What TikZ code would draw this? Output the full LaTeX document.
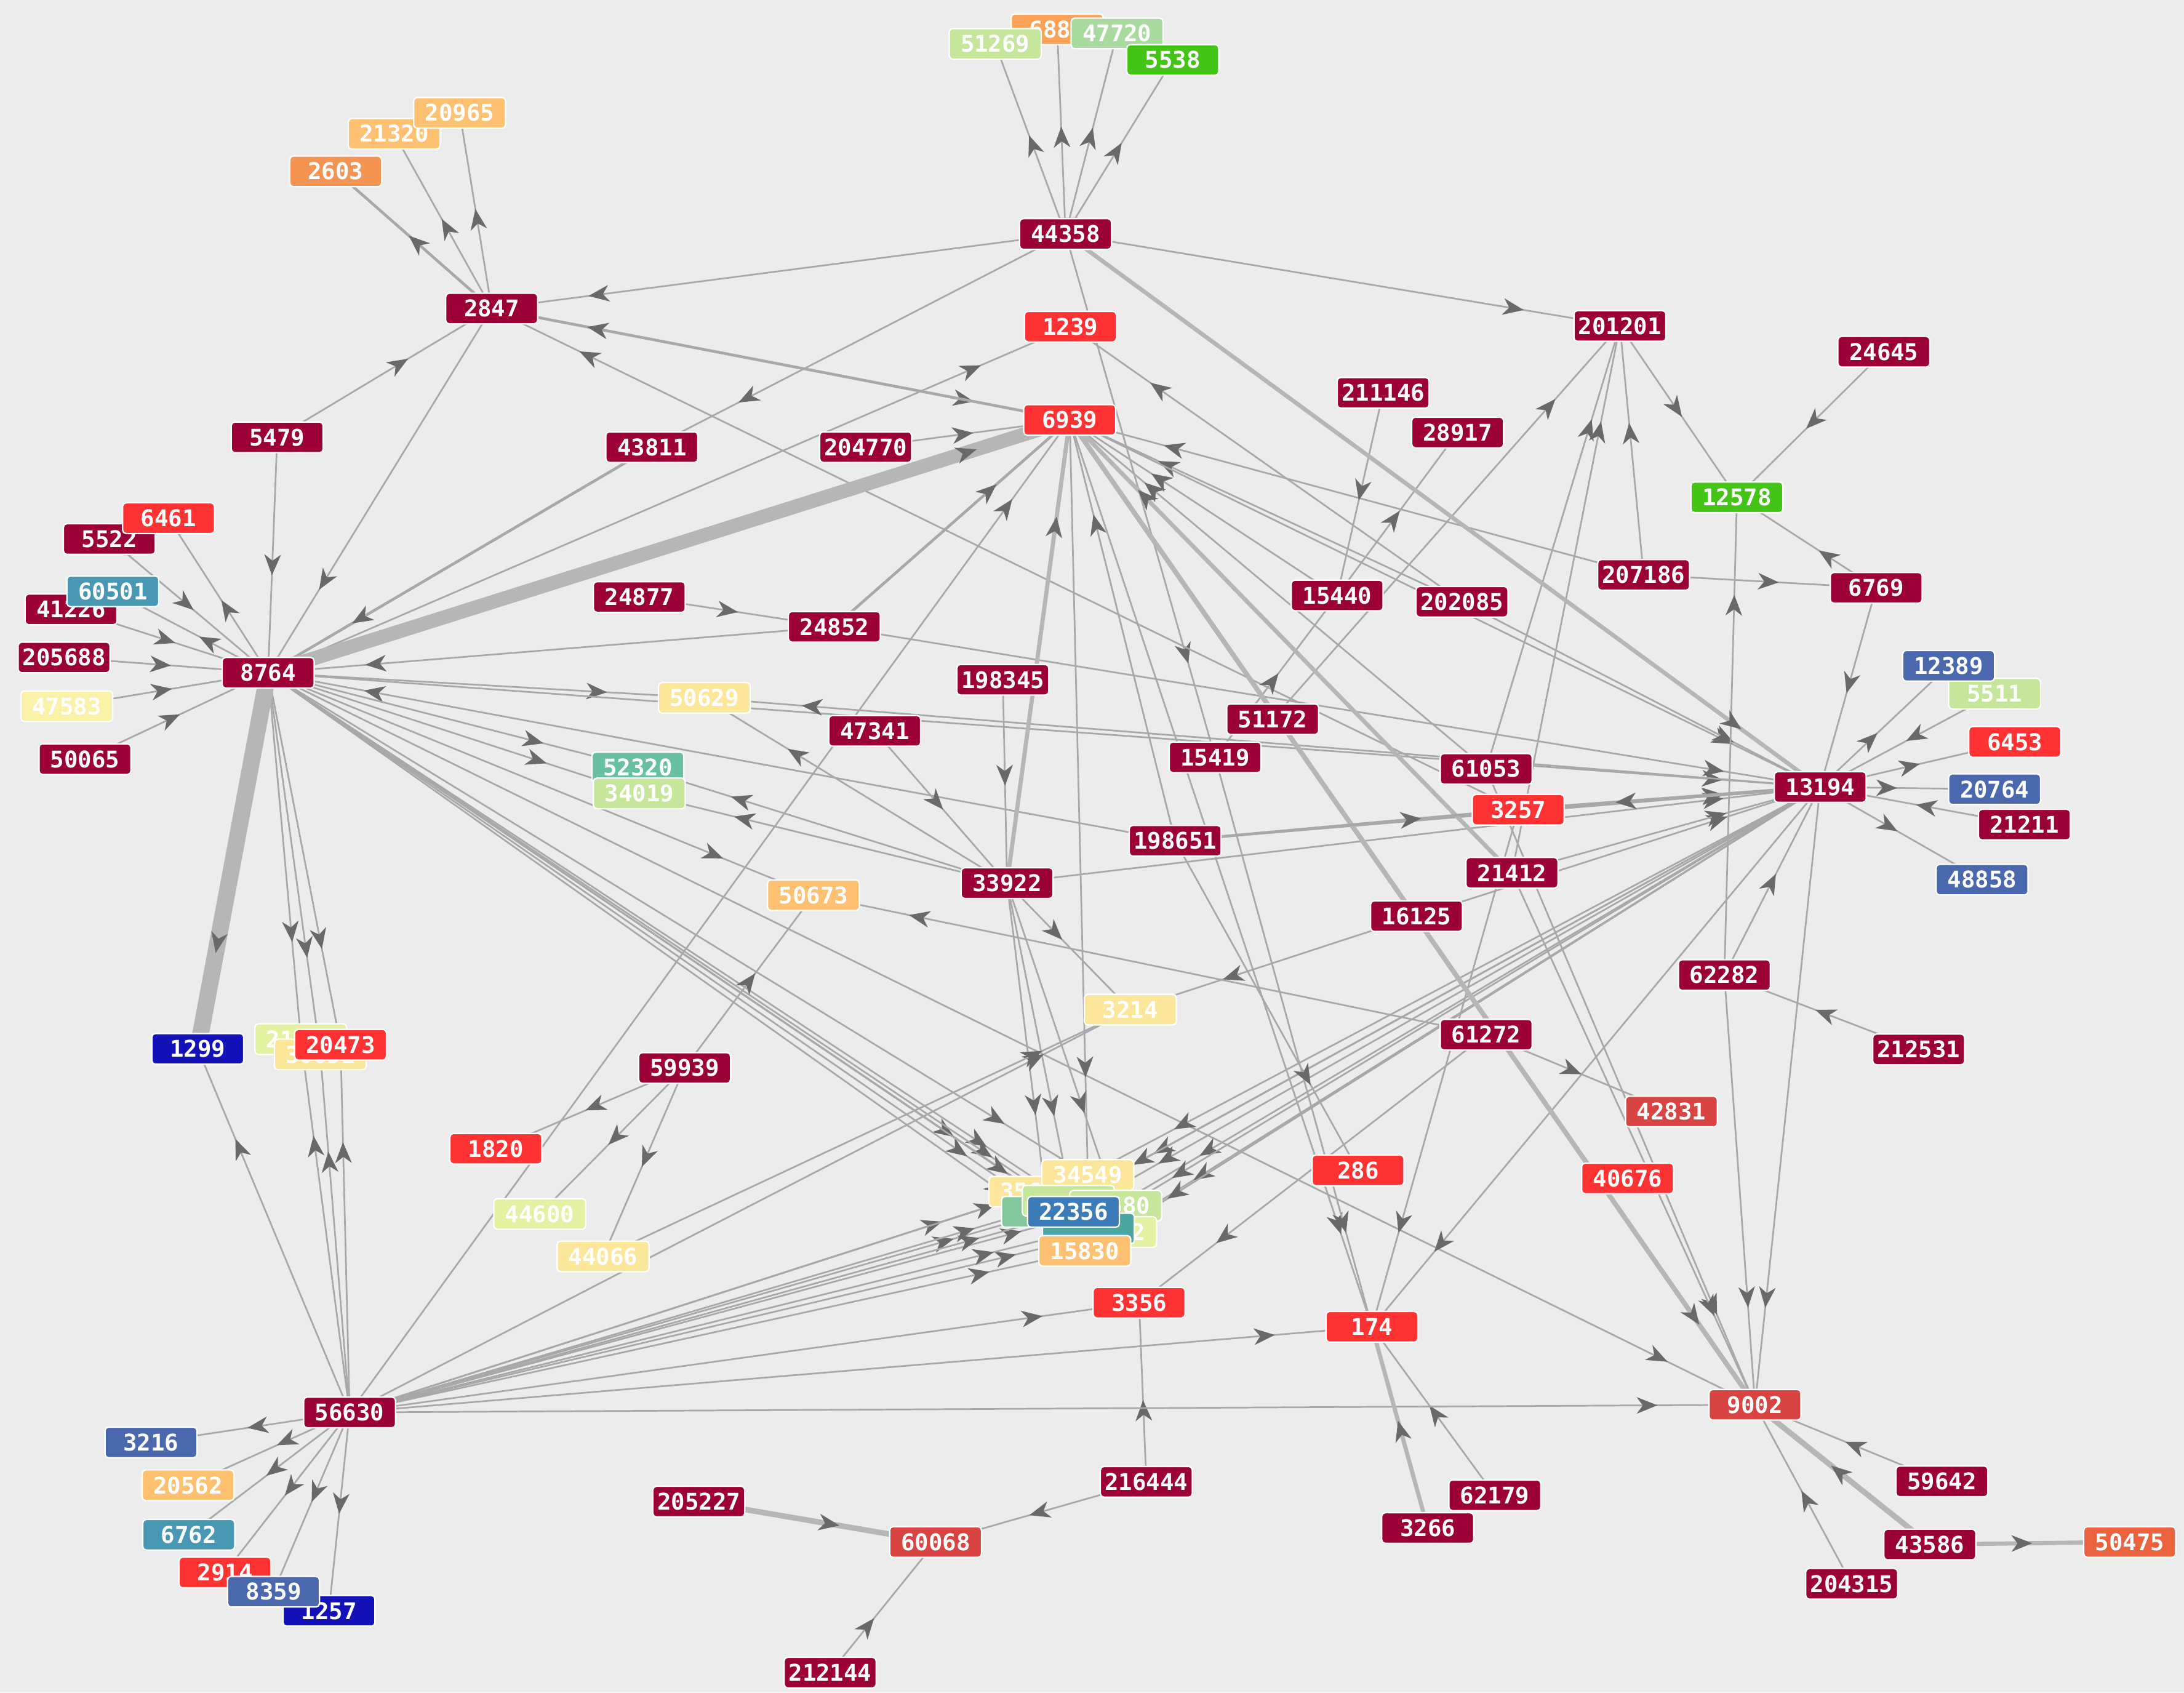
\documentclass[tikz,border=0pt]{standalone}
\usepackage{fontspec}
\setmonofont{DejaVu Sans Mono}
\usetikzlibrary{arrows.meta,decorations.markings}
\definecolor{bgc}{RGB}{236,236,236}
\definecolor{mar}{RGB}{155,1,54}
\definecolor{red1}{RGB}{254,50,50}
\definecolor{red2}{RGB}{216,68,66}
\definecolor{ored}{RGB}{234,98,62}
\definecolor{org}{RGB}{245,148,82}
\definecolor{org2}{RGB}{250,162,90}
\definecolor{lorg}{RGB}{253,193,113}
\definecolor{yel}{RGB}{251,230,154}
\definecolor{yel2}{RGB}{250,242,168}
\definecolor{pgrn}{RGB}{226,242,162}
\definecolor{lgrn}{RGB}{197,230,155}
\definecolor{grn2}{RGB}{168,218,160}
\definecolor{tgrn}{RGB}{104,192,160}
\definecolor{mgrn}{RGB}{130,200,155}
\definecolor{teal1}{RGB}{72,152,180}
\definecolor{teal2}{RGB}{74,166,160}
\definecolor{blu}{RGB}{74,104,173}
\definecolor{blu2}{RGB}{59,123,184}
\definecolor{navy1}{RGB}{18,18,184}
\definecolor{bgrn}{RGB}{68,196,22}
\definecolor{edgec}{RGB}{168,168,168}
\definecolor{thickc}{RGB}{182,182,182}
\definecolor{arrc}{RGB}{105,105,105}
\pgfdeclarelayer{bg}
\pgfdeclarelayer{edges}
\pgfsetlayers{bg,edges,main}
\tikzset{
  nb/.style={rectangle, rounded corners=2.5pt, minimum width=66pt, minimum height=22pt,
    inner sep=0pt, draw=white, line width=1pt, text=white,
    font=\ttfamily\bfseries\fontsize{16.5}{18}\selectfont},
  e/.style={draw=edgec, line width=1.2pt, postaction={decorate},
    decoration={markings, mark=at position -70pt with
      {\arrow{Stealth[length=15pt,width=12pt,inset=4.5pt,line width=0pt,color=arrc]}}}},
  w/.style={line width=#1pt},
  tk/.style={draw=thickc, line width=#1pt}
}
\begin{document}
\begin{tikzpicture}[x=1pt,y=-1pt]
\begin{pgfonlayer}{bg}
\fill[bgc] (0,0) rectangle (1568,1215);
\end{pgfonlayer}
\useasboundingbox (0,0) rectangle (1568,1215);
% nodes (bottom to top)
\node[nb,fill=org2] (n6883) at (759,21) {6883};
\node[nb,fill=lgrn] (n51269) at (714.5,31.5) {51269};
\node[nb,fill=grn2] (n47720) at (802,24) {47720};
\node[nb,fill=bgrn] (n5538) at (842,43) {5538};
\node[nb,fill=lorg] (n21320) at (283,96) {21320};
\node[nb,fill=lorg] (n20965) at (330,81) {20965};
\node[nb,fill=org] (n2603) at (241,123) {2603};
\node[nb,fill=mar] (n44358) at (765,168) {44358};
\node[nb,fill=mar] (n2847) at (353,221.5) {2847};
\node[nb,fill=red1] (n1239) at (768.5,234.5) {1239};
\node[nb,fill=mar] (n201201) at (1163,234) {201201};
\node[nb,fill=mar] (n24645) at (1352.5,252.5) {24645};
\node[nb,fill=mar] (n211146) at (993,282) {211146};
\node[nb,fill=red1] (n6939) at (768,301.5) {6939};
\node[nb,fill=mar] (n28917) at (1046.5,310.5) {28917};
\node[nb,fill=mar] (n5479) at (199,314) {5479};
\node[nb,fill=mar] (n43811) at (468,321) {43811};
\node[nb,fill=mar] (n204770) at (621.5,321) {204770};
\node[nb,fill=bgrn] (n12578) at (1247,357) {12578};
\node[nb,fill=mar] (n5522) at (78.5,387) {5522};
\node[nb,fill=red1] (n6461) at (121,372) {6461};
\node[nb,fill=mar] (n207186) at (1180,412.7) {207186};
\node[nb,fill=mar] (n6769) at (1347,422) {6769};
\node[nb,fill=mar] (n41226) at (51,437.5) {41226};
\node[nb,fill=teal1] (n60501) at (81,424.5) {60501};
\node[nb,fill=mar] (n15440) at (960,427.5) {15440};
\node[nb,fill=mar] (n24877) at (459,428.6) {24877};
\node[nb,fill=mar] (n202085) at (1049.6,432) {202085};
\node[nb,fill=mar] (n24852) at (599,450) {24852};
\node[nb,fill=mar] (n205688) at (46,472) {205688};
\node[nb,fill=mar] (n8764) at (192.5,483) {8764};
\node[nb,fill=lgrn] (n5511) at (1432,498) {5511};
\node[nb,fill=blu] (n12389) at (1399,478) {12389};
\node[nb,fill=mar] (n198345) at (720,488) {198345};
\node[nb,fill=yel] (n50629) at (505.7,501) {50629};
\node[nb,fill=yel2] (n47583) at (48,507) {47583};
\node[nb,fill=mar] (n51172) at (913.7,516.3) {51172};
\node[nb,fill=mar] (n47341) at (628,524.7) {47341};
\node[nb,fill=red1] (n6453) at (1446.5,532.6) {6453};
\node[nb,fill=mar] (n15419) at (872.4,543.7) {15419};
\node[nb,fill=mar] (n50065) at (61,545) {50065};
\node[nb,fill=tgrn] (n52320) at (458,551) {52320};
\node[nb,fill=lgrn] (n34019) at (459,569.6) {34019};
\node[nb,fill=mar] (n61053) at (1067,552) {61053};
\node[nb,fill=mar] (n13194) at (1306.8,565) {13194};
\node[nb,fill=blu] (n20764) at (1432,566.6) {20764};
\node[nb,fill=red1] (n3257) at (1090,581.3) {3257};
\node[nb,fill=mar] (n21211) at (1453.4,592) {21211};
\node[nb,fill=mar] (n198651) at (843.7,603.6) {198651};
\node[nb,fill=mar] (n21412) at (1085.5,626.6) {21412};
\node[nb,fill=blu] (n48858) at (1423,631.5) {48858};
\node[nb,fill=mar] (n33922) at (723,634) {33922};
\node[nb,fill=lorg] (n50673) at (584,642.7) {50673};
\node[nb,fill=mar] (n16125) at (1017,657.7) {16125};
\node[nb,fill=mar] (n62282) at (1238,700) {62282};
\node[nb,fill=yel] (n3214) at (811.5,724.8) {3214};
\node[nb,fill=mar] (n61272) at (1067,742.8) {61272};
\node[nb,fill=navy1] (n1299) at (142,753) {1299};
\node[nb,fill=pgrn] (n2x) at (216,746) {21447};
\node[nb,fill=yel] (n3x) at (230,757) {30851};
\node[nb,fill=red1] (n20473) at (244.5,750) {20473};
\node[nb,fill=mar] (n212531) at (1377.5,753.4) {212531};
\node[nb,fill=mar] (n59939) at (491.5,766.7) {59939};
\node[nb,fill=red2] (n42831) at (1200,798) {42831};
\node[nb,fill=red1] (n1820) at (356,824.7) {1820};
\node[nb,fill=red1] (n286) at (975,840.2) {286};
\node[nb,fill=red1] (n40676) at (1168.5,846) {40676};
\node[nb,fill=yel] (n35x) at (743,855.5) {35684};
\node[nb,fill=yel] (n34549) at (781,843.5) {34549};
\node[nb,fill=mgrn] (nG1) at (752,870) {};
\node[nb,fill=lgrn] (nLG1) at (767,862) {};
\node[nb,fill=lgrn] (nLG80) at (801,865.6) {12680};
\node[nb,fill=pgrn] (nY2) at (797.4,884.5) {10632};
\node[nb,fill=teal2] (nTeal) at (781.4,882) {};
\node[nb,fill=blu2] (n22356) at (770.7,870) {22356};
\node[nb,fill=lorg] (n15830) at (778.8,898) {15830};
\node[nb,fill=pgrn] (n44600) at (387.5,871.5) {44600};
\node[nb,fill=yel] (n44066) at (433,902) {44066};
\node[nb,fill=red1] (n3356) at (817.8,935.2) {3356};
\node[nb,fill=red1] (n174) at (985,952.5) {174};
\node[nb,fill=red2] (n9002) at (1260,1008.5) {9002};
\node[nb,fill=mar] (n56630) at (251,1014) {56630};
\node[nb,fill=blu] (n3216) at (108.4,1035.5) {3216};
\node[nb,fill=mar] (n216444) at (823,1063.8) {216444};
\node[nb,fill=mar] (n59642) at (1394.2,1063.5) {59642};
\node[nb,fill=lorg] (n20562) at (135,1066.3) {20562};
\node[nb,fill=mar] (n62179) at (1073.2,1073.5) {62179};
\node[nb,fill=mar] (n205227) at (501.7,1078) {205227};
\node[nb,fill=mar] (n3266) at (1025,1097) {3266};
\node[nb,fill=teal1] (n6762) at (135.5,1101.8) {6762};
\node[nb,fill=red2] (n60068) at (671.7,1107) {60068};
\node[nb,fill=ored] (n50475) at (1529,1107) {50475};
\node[nb,fill=mar] (n43586) at (1385.5,1108.8) {43586};
\node[nb,fill=red1] (n2914) at (161.5,1128.9) {2914};
\node[nb,fill=mar] (n204315) at (1329.4,1137) {204315};
\node[nb,fill=navy1] (n1257) at (236.2,1156.4) {1257};
\node[nb,fill=blu] (n8359) at (196.4,1142.7) {8359};
\node[nb,fill=mar] (n212144) at (596,1200.8) {212144};
% edges
\begin{pgfonlayer}{edges}
\foreach \a/\b in {44358/51269,44358/6883,44358/47720,44358/5538,44358/2847,44358/201201,44358/43811,44358/15419,
 2847/21320,2847/20965,5479/2847,2847/8764,2847/6939,3257/2847,
 5522/8764,8764/6461,8764/60501,41226/8764,205688/8764,47583/8764,50065/8764,5479/8764,
 8764/1239,24852/8764,198651/8764,8764/50629,8764/52320,8764/34019,8764/50673,
 8764/2x,8764/3x,8764/20473,8764/9002,8764/13194,
 8764/35x,8764/G1,8764/LG1,8764/34549,8764/22356,8764/Teal,8764/15830,
 204770/6939,24877/24852,24852/13194,198345/33922,47341/33922,56630/6939,198651/6939,
 202085/6939,15440/6939,61053/6939,6939/13194,202085/13194,6939/174,6939/34549,207186/6939,202085/1239,
 13194/50629,33922/50629,33922/52320,33922/34019,33922/3214,33922/13194,33922/G1,33922/22356,33922/LG80,
 59939/50673,61272/50673,59939/1820,59939/44600,59939/44066,56630/3214,44066/3214,16125/3214,16125/13194,
 201201/12578,207186/201201,51172/201201,61053/201201,21412/201201,24645/12578,62282/12578,6769/12578,
 207186/6769,6769/13194,211146/15440,15419/15440,15440/28917,
 13194/12389,5511/13194,13194/6453,13194/20764,21211/13194,13194/48858,3257/13194,
 198651/13194,21412/13194,62282/13194,212531/62282,13194/9002,62282/9002,61053/9002,21412/9002,13194/174,
 13194/34549,13194/LG80,13194/Y2,13194/Teal,13194/22356,13194/15830,13194/LG1,13194/G1,
 15419/174,3257/174,62179/174,56630/174,198651/286,61272/3356,61272/42831,56630/3356,216444/3356,216444/60068,
 212144/60068,56630/9002,59642/9002,204315/9002,
 56630/3216,56630/20562,56630/6762,56630/2914,56630/8359,56630/1257,56630/1299,56630/2x,56630/3x,56630/20473,
 56630/35x,56630/G1,56630/LG1,56630/34549,56630/LG80,56630/Y2,56630/Teal,56630/22356,56630/15830}
  \draw[e] (n\a.center) -- (n\b.center);
\draw[e,w=2] (n2847.center) -- (n2603.center);
\draw[e,w=2] (n6939.center) -- (n2847.center);
\draw[e,tk=3] (n44358.center) -- (n13194.center);
\draw[e,w=2] (n43811.center) -- (n8764.center);
\draw[e,tk=10] (n8764.center) -- (n6939.center);
\draw[e,tk=12] (n8764.center) -- (n1299.center);
\draw[e,w=2] (n24852.center) -- (n6939.center);
\draw[e,tk=3] (n33922.center) -- (n6939.center);
\draw[e,tk=3] (n21412.center) -- (n6939.center);
\draw[e,tk=3.5] (n6939.center) -- (n9002.center);
\draw[e,w=2.5] (n13194.center) -- (n3257.center);
\draw[e,w=2] (n198651.center) -- (n3257.center);
\draw[e,tk=3] (n3266.center) -- (n174.center);
\draw[e,tk=4] (n205227.center) -- (n60068.center);
\draw[e,tk=4] (n43586.center) -- (n9002.center);
\draw[e,tk=3] (n43586.center) -- (n50475.center);
\end{pgfonlayer}
\end{tikzpicture}
\end{document}
